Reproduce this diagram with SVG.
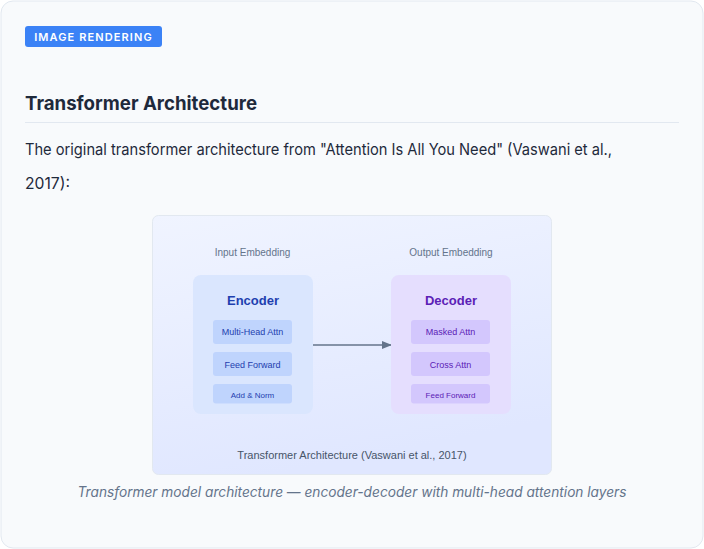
<svg xmlns="http://www.w3.org/2000/svg" width="704" height="549" viewBox="0 0 704 549">
<defs>
<linearGradient id="bg" x1="0" y1="0" x2="0.3" y2="1">
<stop offset="0" stop-color="#f0f4ff"/>
<stop offset="1" stop-color="#e0e7ff"/>
</linearGradient>
<marker id="arr" markerWidth="10" markerHeight="8" refX="9" refY="4" orient="auto" markerUnits="userSpaceOnUse">
<path d="M0,0 L10,4 L0,8 Z" fill="#64748b"/>
</marker>
</defs>
<style>
text{font-family:Inter,"Liberation Sans",sans-serif}
.d{font-family:"Liberation Sans",Arial,sans-serif}
.emb{font-size:10px;fill:#64748b;text-anchor:middle}
.enc{fill:#dae6fe}
.encs{fill:#bfd4fd}
.enct{fill:#1e40af;text-anchor:middle}
.dec{fill:#e5defe}
.decs{fill:#d3c7fd}
.dect{fill:#5b21b6;text-anchor:middle}
.h{font-size:13px;font-weight:700}
.s{font-size:9px}
.s2{font-size:8px}
</style>
<rect x="1" y="1" width="702" height="547" rx="12" fill="#f8fafc" stroke="#e2e8f0"/>
<g id="badge">
<rect x="25" y="26" width="137" height="21" rx="3" fill="#3b82f6"/>
<text x="93.5" y="41" font-size="11" font-weight="600" fill="#ffffff" text-anchor="middle" letter-spacing="1.1">IMAGE RENDERING</text>
</g>
<text x="25" y="110" font-size="19" font-weight="700" fill="#1e293b" textLength="232" lengthAdjust="spacingAndGlyphs">Transformer Architecture</text>
<line x1="25" y1="122.5" x2="679" y2="122.5" stroke="#e2e8f0"/>
<text x="25" y="155" font-size="16" fill="#1e293b" textLength="587" lengthAdjust="spacingAndGlyphs">The original transformer architecture from "Attention Is All You Need" (Vaswani et al.,</text>
<text x="25" y="189" font-size="16" fill="#1e293b" textLength="45" lengthAdjust="spacingAndGlyphs">2017):</text>
<rect x="152.5" y="215.5" width="399" height="259" rx="6" fill="url(#bg)" stroke="#e2e8f0"/>
<text class="d emb" x="252.5" y="256">Input Embedding</text>
<text class="d emb" x="451" y="256">Output Embedding</text>
<g id="connectors">
<line x1="313" y1="345" x2="391" y2="345" stroke="#64748b" stroke-width="1.5" marker-end="url(#arr)"/>
</g>
<g id="encoder">
<rect class="enc" x="193" y="275" width="120" height="139" rx="8"/>
<text class="d enct h" x="253" y="305">Encoder</text>
<rect class="encs" x="213" y="320" width="79" height="24" rx="3"/>
<text class="d enct s" x="252.5" y="335">Multi-Head Attn</text>
<rect class="encs" x="213" y="352" width="79" height="24" rx="3"/>
<text class="d enct s" x="252.5" y="368">Feed Forward</text>
<rect class="encs" x="213" y="384" width="79" height="19.5" rx="3"/>
<text class="d enct s2" x="252.5" y="398">Add &amp; Norm</text>
</g>
<g id="decoder">
<rect class="dec" x="391" y="275" width="120" height="139" rx="8"/>
<text class="d dect h" x="451" y="305">Decoder</text>
<rect class="decs" x="411" y="320" width="79" height="24" rx="3"/>
<text class="d dect s" x="450.5" y="335">Masked Attn</text>
<rect class="decs" x="411" y="352" width="79" height="24" rx="3"/>
<text class="d dect s" x="450.5" y="368">Cross Attn</text>
<rect class="decs" x="411" y="384" width="79" height="19.5" rx="3"/>
<text class="d dect s2" x="450.5" y="398">Feed Forward</text>
</g>
<text class="d" x="352" y="459" font-size="11" fill="#475569" text-anchor="middle">Transformer Architecture (Vaswani et al., 2017)</text>
<text x="352" y="497" font-size="14" font-style="italic" fill="#64748b" text-anchor="middle" textLength="549" lengthAdjust="spacingAndGlyphs">Transformer model architecture — encoder-decoder with multi-head attention layers</text>
</svg>
